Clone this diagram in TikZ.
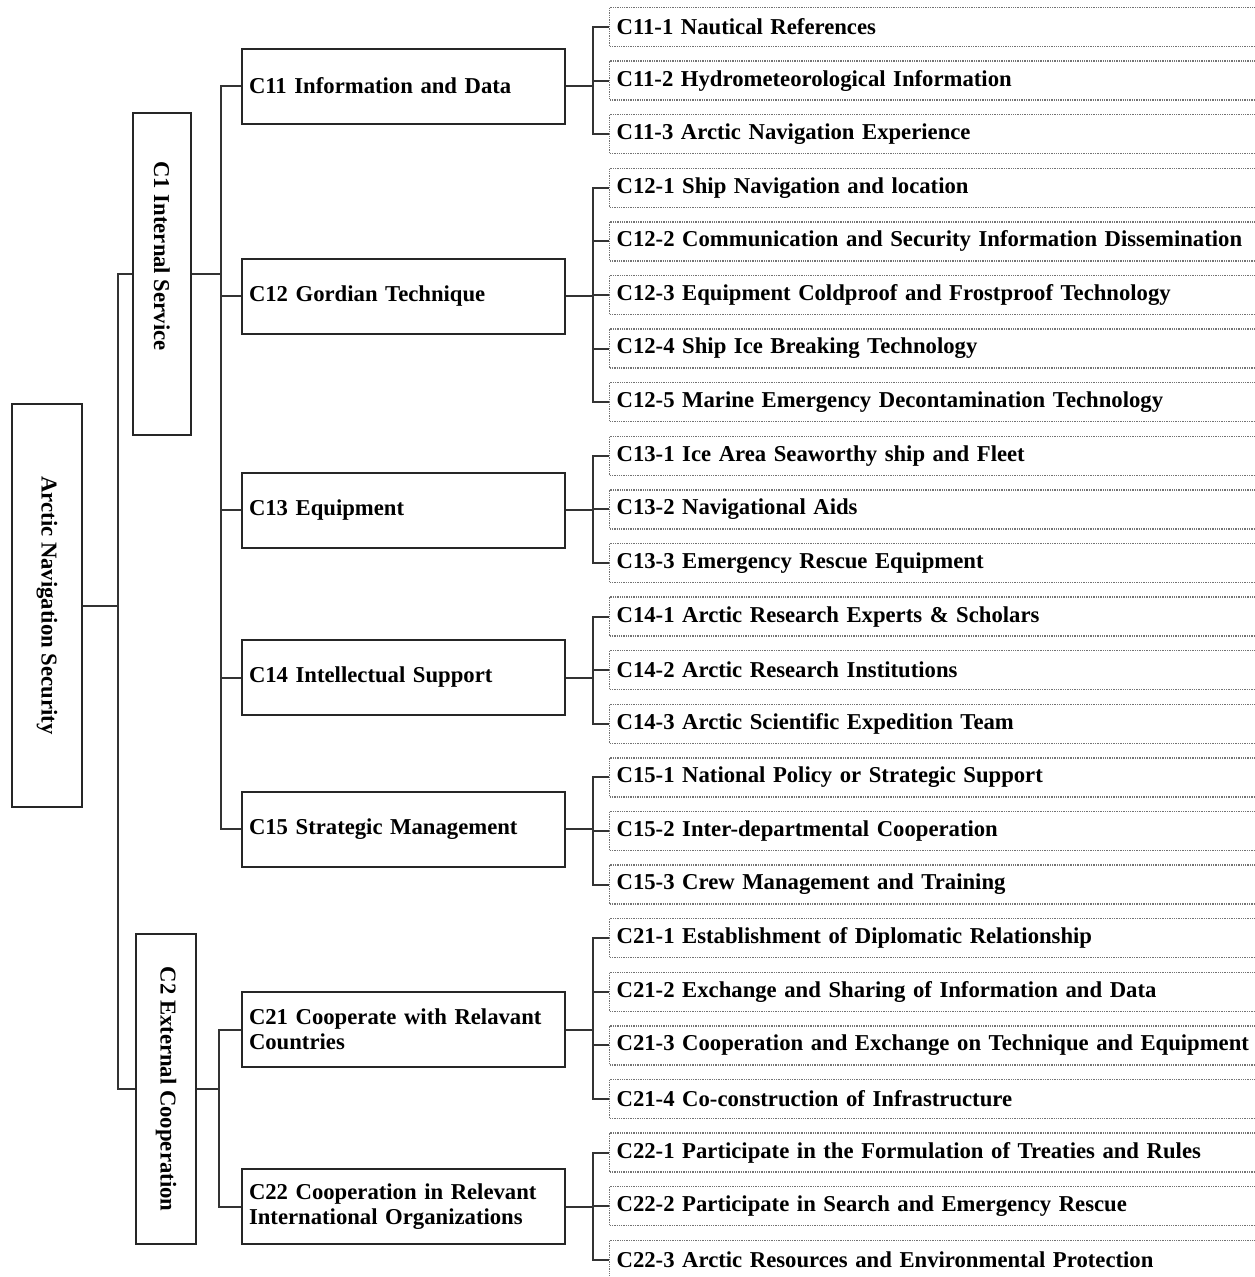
\documentclass[tikz,border=0pt]{standalone}
\usepackage{fontspec}
\setmainfont{Liberation Serif}
\usetikzlibrary{positioning}
\tikzset{x=1pt,y=-1pt,
  box/.style={draw=black!85,line width=2pt,font=\bfseries\fontsize{22.7}{25}\selectfont},
  side/.style={box,inner sep=0pt},
  mid/.style={box,minimum width=323pt,minimum height=75pt,text width=309pt,inner xsep=7pt,align=left},
  leaf/.style={box,draw=black!55,line width=1.3pt,densely dotted,anchor=west,minimum height=39pt,text width=646pt,inner xsep=7pt,align=left},
  link/.style={draw=black!80,line width=2pt}}

\begin{document}
\begin{tikzpicture}
              \useasboundingbox (0,0) rectangle (1255,1277);
              \clip (0,0) rectangle (1255,1277);

              \node[side,minimum width=70pt,minimum height=403pt] (root) at (47,605.5) {\rotatebox{-90}{Arctic Navigation Security}};

              \node[side,minimum width=58pt,minimum height=322pt] (c1) at (162,274) {};
              \node[font=\bfseries\fontsize{22.7}{25}\selectfont,rotate=-90] (c1t) at ([yshift=18pt]c1) {C1 Internal Service};
              \node[side,minimum width=60pt,minimum height=310pt] (c2) at (166,1089) {\rotatebox{-90}{C2 External Cooperation}};

              \node[mid] (c11) at (403.5,86) {C11 Information and Data};
              \node[mid] (c12) at (403.5,296) {C12 Gordian Technique};
              \node[mid] (c13) at (403.5,510) {C13 Equipment};
              \node[mid] (c14) at (403.5,677.5) {C14 Intellectual Support};
              \node[mid] (c15) at (403.5,829) {C15 Strategic Management};
              \node[mid] (c21) at (403.5,1029.5) {C21 Cooperate with Relavant\\Countries};
              \node[mid] (c22) at (403.5,1206.5) {C22 Cooperation in Relevant\\International Organizations};

              \node[leaf] (c111) at (609,27.0) {C11-1 Nautical References};
              \node[leaf] (c112) at (609,80.6) {C11-2 Hydrometeorological Information};
              \node[leaf] (c113) at (609,134.2) {C11-3 Arctic Navigation Experience};
              \node[leaf] (c121) at (609,187.8) {C12-1 Ship Navigation and location};
              \node[leaf] (c122) at (609,241.4) {C12-2 Communication and Security Information Dissemination};
              \node[leaf] (c123) at (609,295.0) {C12-3 Equipment Coldproof and Frostproof Technology};
              \node[leaf] (c124) at (609,348.6) {C12-4 Ship Ice Breaking Technology};
              \node[leaf] (c125) at (609,402.2) {C12-5 Marine Emergency Decontamination Technology};
              \node[leaf] (c131) at (609,455.8) {C13-1 Ice Area Seaworthy ship and Fleet};
              \node[leaf] (c132) at (609,509.4) {C13-2 Navigational Aids};
              \node[leaf] (c133) at (609,563.0) {C13-3 Emergency Rescue Equipment};
              \node[leaf] (c141) at (609,616.6) {C14-1 Arctic Research Experts \& Scholars};
              \node[leaf] (c142) at (609,670.2) {C14-2 Arctic Research Institutions};
              \node[leaf] (c143) at (609,723.8) {C14-3 Arctic Scientific Expedition Team};
              \node[leaf] (c151) at (609,777.4) {C15-1 National Policy or Strategic Support};
              \node[leaf] (c152) at (609,831.0) {C15-2 Inter-departmental Cooperation};
              \node[leaf] (c153) at (609,884.6) {C15-3 Crew Management and Training};
              \node[leaf] (c211) at (609,938.2) {C21-1 Establishment of Diplomatic Relationship};
              \node[leaf] (c212) at (609,991.8) {C21-2 Exchange and Sharing of Information and Data};
              \node[leaf] (c213) at (609,1045.4) {C21-3 Cooperation and Exchange on Technique and Equipment};
              \node[leaf] (c214) at (609,1099.0) {C21-4 Co-construction of Infrastructure};
              \node[leaf] (c221) at (609,1152.6) {C22-1 Participate in the Formulation of Treaties and Rules};
              \node[leaf] (c222) at (609,1206.2) {C22-2 Participate in Search and Emergency Rescue};
              \node[leaf] (c223) at (609,1259.8) {C22-3 Arctic Resources and Environmental Protection};

              % brackets
              \draw[link] (root.east) -- ++(35,0) coordinate (k0);
              \draw[link] (k0) |- (c1.west) (k0) |- (c2.west);

              \draw[link] (c1.east) -- ++(29,0) coordinate (k1);
              \draw[link] (k1) |- (c11.west) (k1) |- (c12.west) (k1) |- (c13.west)
                          (k1) |- (c14.west) (k1) |- (c15.west);
              \draw[link] (c2.east) -- ++(22,0) coordinate (k2);
              \draw[link] (k2) |- (c21.west) (k2) |- (c22.west);

              \draw[link] (c11.east) -- ++(27,0) coordinate (k11);
              \draw[link] (k11) |- (c111.west) (k11) |- (c112.west) (k11) |- (c113.west);
              \draw[link] (c12.east) -- ++(27,0) coordinate (k12);
              \draw[link] (k12) |- (c121.west) (k12) |- (c122.west) (k12) |- (c123.west)
                          (k12) |- (c124.west) (k12) |- (c125.west);
              \draw[link] (c13.east) -- ++(27,0) coordinate (k13);
              \draw[link] (k13) |- (c131.west) (k13) |- (c132.west) (k13) |- (c133.west);
              \draw[link] (c14.east) -- ++(27,0) coordinate (k14);
              \draw[link] (k14) |- (c141.west) (k14) |- (c142.west) (k14) |- (c143.west);
              \draw[link] (c15.east) -- ++(27,0) coordinate (k15);
              \draw[link] (k15) |- (c151.west) (k15) |- (c152.west) (k15) |- (c153.west);
              \draw[link] (c21.east) -- ++(27,0) coordinate (k21);
              \draw[link] (k21) |- (c211.west) (k21) |- (c212.west) (k21) |- (c213.west)
                          (k21) |- (c214.west);
              \draw[link] (c22.east) -- ++(27,0) coordinate (k22);
              \draw[link] (k22) |- (c221.west) (k22) |- (c222.west) (k22) |- (c223.west);
            \end{tikzpicture}
\end{document}
